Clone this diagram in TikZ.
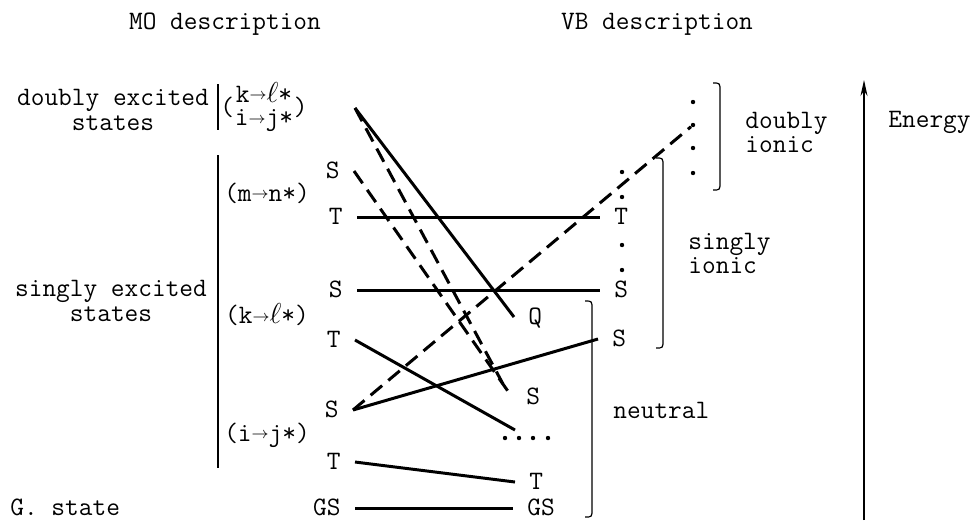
\documentclass[tikz,border=0pt]{standalone}
\usepackage{fontspec}
\usetikzlibrary{arrows.meta,positioning}

\newcommand{\sarr}{\raisebox{0.2ex}{\fontsize{8}{8}\selectfont$\rightarrow$}}

\begin{document}
\begin{tikzpicture}[
  x=0.5pt, y=-0.5pt,
  txt/.style={inner sep=0pt, align=center, font=\ttfamily\fontsize{13.3}{12.5}\selectfont},
  lbl/.style={inner sep=7pt, text height=7pt, text depth=0pt, font=\ttfamily\fontsize{13.3}{12.5}\selectfont},
  lvl/.style={line width=1.5pt},
  dlvl/.style={line width=1.5pt, dash pattern=on 7.5pt off 4pt},
  bar/.style={line width=0.6pt},
  dotn/.style={circle, fill, inner sep=0pt, minimum size=2.2pt}
]
  \useasboundingbox (0,0) rectangle (973,526);

  % Titles
  \node[txt] (mo) at (225,24) {MO description};
  \node[txt] (vb) at (657,24) {VB description};

  % MO side
  \node[txt] (dbl) at (113,110) {doubly excited\\states};
  \node[txt] (sgl) at (111,301) {singly excited\\states};
  \node[txt, anchor=west] (g) at (10,507) {G. state};
  \draw[bar] (218,84) -- (218,130);
  \draw[bar] (218,155) -- (218,468);
  \node[txt, font=\ttfamily\fontsize{13.3}{11.8}\selectfont] (dx) at (264,107) {k\sarr$\ell$*\\i\sarr j*};
  \node[txt, left=0pt of dx.west] (po) {(};
  \node[txt, right=0pt of dx.east] (pc) {)};
  \node[txt] (mn) at (267,193) {(m\sarr n*)};
  \node[txt] (kl1) at (267,315) {(k\sarr$\ell$*)};
  \node[txt] (ij1) at (267,435) {(i\sarr j*)};

  \coordinate (dex) at (355,108);
  \node[lbl, anchor=east] (lS1) at (354,171) {S};
  \node[lbl, anchor=east] (lT1) at (357,217) {T};
  \node[lbl, anchor=east] (lS2) at (357,290) {S};
  \node[lbl, anchor=east] (lT2) at (355,340) {T};
  \node[lbl, anchor=east] (lS3) at (353,410) {S};
  \node[lbl, anchor=east] (lT3) at (355,462) {T};
  \node[lbl, anchor=east] (lGS) at (355,508) {GS};

  % VB side
  \node[lbl, anchor=west] (rT1) at (600,217) {T};
  \node[lbl, anchor=west] (rS1) at (600,290) {S};
  \node[lbl, anchor=west] (rS2) at (598,339) {S};
  \node[lbl, anchor=west] (rQ) at (514,317) {Q};
  \node[lbl, anchor=west] (rS3) at (512,397) {S};
  \node[lbl, anchor=west] (rT) at (515,482) {T};
  \node[lbl, anchor=west] (rGS) at (513,508) {GS};
  \coordinate (sEnd) at (503,384);
  \coordinate (dEnd) at (515,430);

  \foreach \y [count=\i] in {102,125,148,173}
    \node[dotn] (di\i) at (693,\y) {};
  \foreach \y [count=\i] in {172,197,245,270}
    \node[dotn] (si\i) at (622,\y) {};
  \foreach \x [count=\i] in {505,519,533,548}
    \node[dotn] (nd\i) at (\x,438) {};

  % Braces
  \draw[bar] (713,83) .. controls (720,83) .. (720,91) -- (720,182) .. controls (720,190) .. (713,190);
  \draw[bar] (656,158) .. controls (663,158) .. (663,166) -- (663,340) .. controls (663,348) .. (656,348);
  \draw[bar] (585,301) .. controls (592,301) .. (592,309) -- (592,509) .. controls (592,517) .. (585,517);
  \node[txt, align=left, anchor=west, font=\ttfamily\fontsize{13.3}{12}\selectfont] (dion) at (745,132) {doubly\\ionic};
  \node[txt, align=left, anchor=west, font=\ttfamily\fontsize{13.3}{10.8}\selectfont] (sion) at (688,253) {singly\\ionic};
  \node[txt, anchor=west] (neu) at (613,410) {neutral};

  % Energy axis
  \coordinate (eBot) at (864,520);
  \coordinate (eTop) at (864,80);
  \draw[line width=0.6pt, -{Stealth[length=8pt, width=3.5pt]}] (eBot) -- (eTop);
  \node[txt, anchor=west] (en) at (888,122) {Energy};

  % Correlation lines
  \draw[lvl] (lT1.east) -- (rT1.west);
  \draw[lvl] (lS2.east) -- (rS1.west);
  \draw[lvl] (dex) -- (rQ.west);
  \draw[dlvl] (dex) -- (sEnd);
  \draw[dlvl] (lS1.east) -- (rS3.west);
  \draw[dlvl] (lS3.east) -- (di2);
  \draw[lvl] (lS3.east) -- (rS2.west);
  \draw[lvl] (lT2.east) -- (dEnd);
  \draw[lvl] (lT3.east) -- (rT.west);
  \draw[lvl] (lGS.east) -- (rGS.west);
\end{tikzpicture}
\end{document}
